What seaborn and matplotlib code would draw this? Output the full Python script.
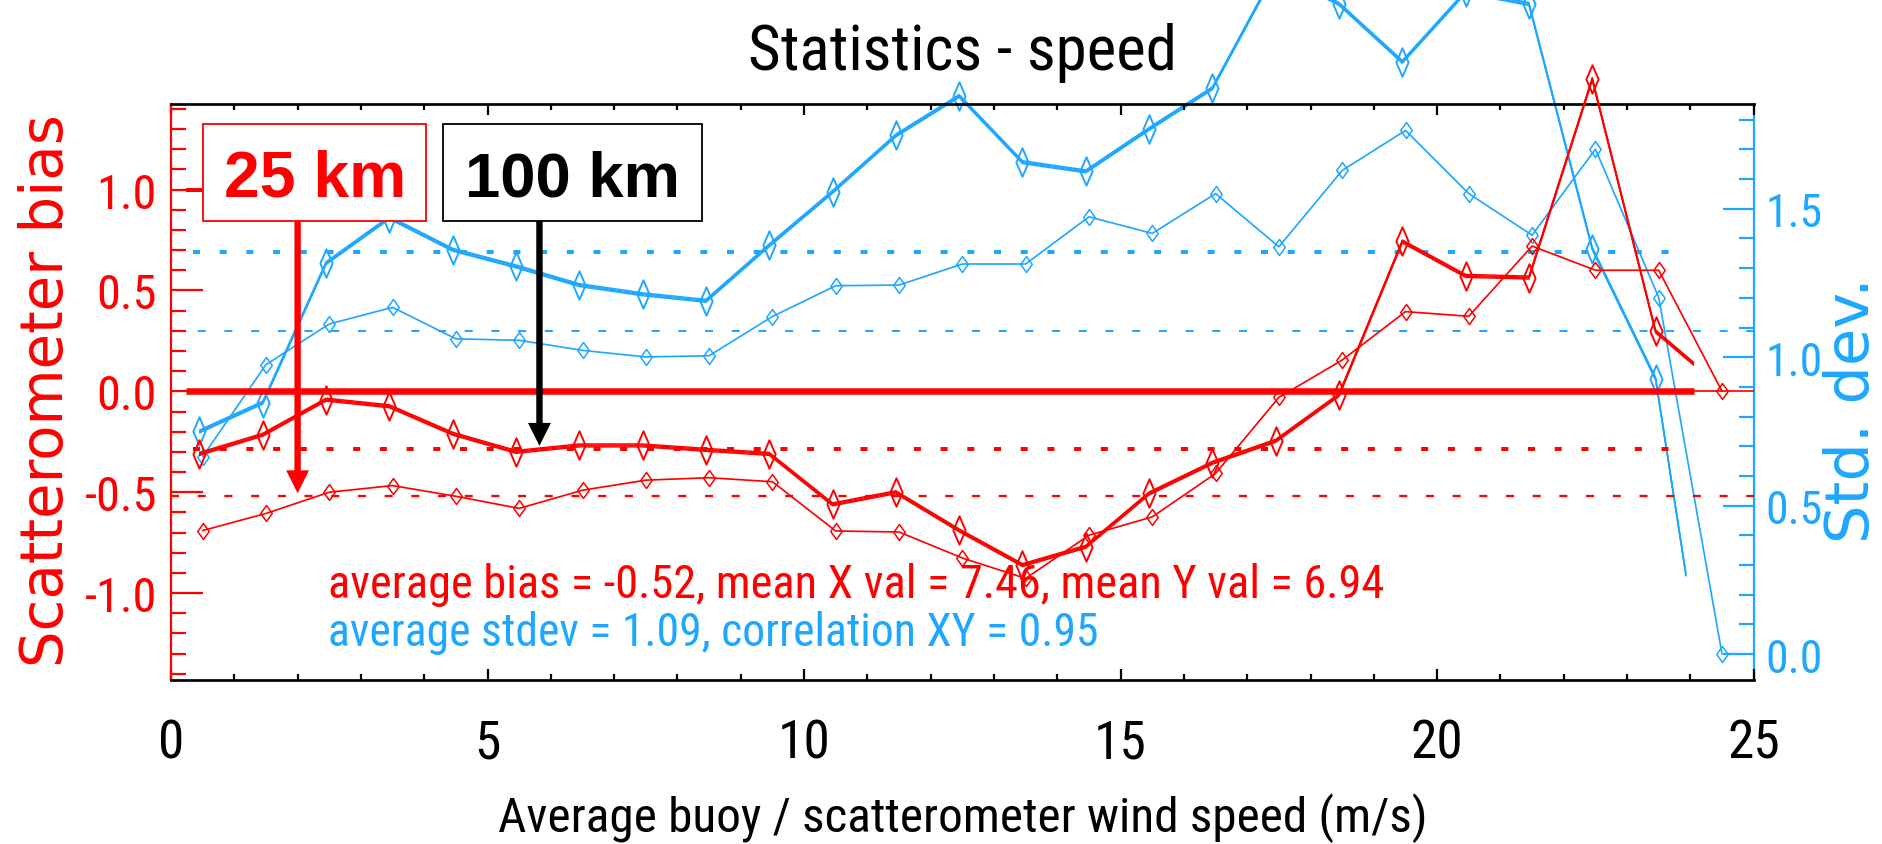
import os
import numpy as np
import pandas as pd
import matplotlib
matplotlib.use("Agg")
import matplotlib.pyplot as plt
import seaborn as sns
from matplotlib import font_manager as fm
from matplotlib.font_manager import FontProperties
from matplotlib.path import Path
from matplotlib.markers import MarkerStyle
from matplotlib.patches import Rectangle, FancyArrowPatch, ArrowStyle
from matplotlib.transforms import offset_copy
from matplotlib.ticker import MultipleLocator

# ---------------- data ----------------
speed_25km = [0.5, 1.5, 2.5, 3.5, 4.5, 5.5, 6.5, 7.5, 8.5, 9.5, 10.5, 11.5, 12.5,
              13.5, 14.5, 15.5, 16.5, 17.5, 18.5, 19.5, 20.5, 21.5, 22.5, 23.5, 24.5]
bias_25km = [-0.69, -0.605, -0.50, -0.467, -0.52, -0.58, -0.49, -0.44, -0.428, -0.448,
             -0.692, -0.697, -0.826, -0.927, -0.713, -0.622, -0.407, -0.03, 0.155, 0.395,
             0.372, 0.72, 0.60, 0.60, 0.0]
stdev_25km = [0.665, 0.975, 1.112, 1.168, 1.062, 1.057, 1.023, 1.001, 1.005, 1.137,
              1.241, 1.243, 1.314, 1.314, 1.473, 1.417, 1.551, 1.372, 1.629, 1.764,
              1.551, 1.411, 1.701, 1.201, 0.0]

speed_100km = [0.45, 1.45, 2.45, 3.45, 4.45, 5.45, 6.45, 7.45, 8.45, 9.45, 10.45, 11.45,
               12.45, 13.45, 14.45, 15.45, 16.45, 17.45, 18.45, 19.45, 20.45, 21.45,
               22.45, 23.45]
bias_100km = [-0.31, -0.215, -0.041, -0.074, -0.21, -0.30, -0.268, -0.268, -0.29, -0.31,
              -0.56, -0.50, -0.689, -0.861, -0.77, -0.506, -0.354, -0.245, -0.018, 0.743,
              0.572, 0.564, 1.548, 0.297]
stdev_100km = [0.75, 0.847, 1.317, 1.47, 1.362, 1.306, 1.243, 1.212, 1.19, 1.377,
               1.557, 1.747, 1.88, 1.657, 1.626, 1.769, 1.906, 2.30, 2.19, 1.995,
               2.23, 2.19, 1.366, 0.928]
# the 100 km curves stop at the clip edge of their overlay (no marker there)
bias_100km_cut = (24.05, 0.137)
stdev_100km_cut = (23.93, 0.268)

avg_bias_25km = -0.52
avg_bias_100km = -0.287
avg_stdev_25km = 1.09
avg_stdev_100km = 1.356

x_ticks = [0, 5, 10, 15, 20, 25]
bias_ticks = [-1.0, -0.5, 0.0, 0.5, 1.0]
stdev_ticks = [0.0, 0.5, 1.0, 1.5]

title_txt = "Statistics - speed"
xlabel_txt = "Average buoy / scatterometer wind speed (m/s)"
ylabel_left_txt = "Scatterometer bias"
ylabel_right_txt = "Std. dev."
stats_bias_txt = "average bias = -0.52, mean X val = 7.46, mean Y val = 6.94"
stats_stdev_txt = "average stdev = 1.09, correlation XY = 0.95"
label_25km = "25 km"
label_100km = "100 km"

# ---------------- style ----------------
RED = "#FF0000"
BLUE = "#1EA7FF"
BLACK = "#000000"
W, H, DPI = 1883, 845, 100
PT = 72.0 / DPI  # points per pixel

sns.set_theme(style="white")
plt.rcParams["axes.unicode_minus"] = False
plt.rcParams["lines.scale_dashes"] = False
plt.rcParams["font.family"] = ["Liberation Sans", "DejaVu Sans"]


def condensed_font():
    """Pick the narrowest regular sans face that is installed."""
    prefs = ["liberationsansnarrow-regular", "robotocondensed-regular",
             "notosans-extracondensed.", "notosans-condensed.", "dejavusanscondensed."]
    files = {os.path.basename(f.fname).lower(): f.fname for f in fm.fontManager.ttflist}
    for p in prefs:
        for base, path in files.items():
            if base.startswith(p):
                return FontProperties(fname=path)
    return FontProperties(family=["Roboto Condensed", "Liberation Sans Narrow",
                                  "Liberation Sans"])


FP_COND = condensed_font()
FP_WIDE = FontProperties(family=["DejaVu Sans"])          # rotated axis titles
FP_BOLD = FontProperties(family=["Liberation Sans", "DejaVu Sans"], weight="bold")


def diamond(aspect):
    verts = [(0, 1), (aspect, 0), (0, -1), (-aspect, 0), (0, 1)]
    codes = [Path.MOVETO, Path.LINETO, Path.LINETO, Path.LINETO, Path.CLOSEPOLY]
    return MarkerStyle(Path(verts, codes))


DIAMOND_THIN = diamond(0.72)
DIAMOND_THICK = diamond(0.43)

# ---------------- figure / axes ----------------
fig = plt.figure(figsize=(W / DPI, H / DPI), dpi=DPI)
AX_L, AX_R, AX_T, AX_B = 171, 1753.7, 105, 680.5
ax = fig.add_axes([AX_L / W, 1 - AX_B / H, (AX_R - AX_L) / W, (AX_B - AX_T) / H])
axr = ax.twinx()
ax.set_zorder(axr.get_zorder() + 1)
ax.patch.set_visible(False)

ax.set_xlim(0, 25)
ax.set_ylim(-1.428, 1.424)
axr.set_ylim(-0.0856, 1.853)


def thin_series(axis, x, y, color):
    sns.lineplot(x=x, y=y, ax=axis, color=color, linewidth=1.7 * PT, marker=DIAMOND_THIN,
                 markersize=11.5, markerfacecolor="none", markeredgecolor=color,
                 markeredgewidth=1.1, clip_on=False, legend=False, sort=False, zorder=3)


def thick_series(axis, x, y, cut, color):
    xs = list(x) + [cut[0]]
    ys = list(y) + [cut[1]]
    # IDL-style thick line: several copies shifted vertically
    for dy in (-1.5, -0.5, 0.5, 1.5):
        tr = offset_copy(axis.transData, fig=fig, x=0, y=dy, units="dots")
        sns.lineplot(x=xs, y=ys, ax=axis, color=color, linewidth=1.4 * PT, transform=tr,
                     clip_on=False, legend=False, sort=False, zorder=3)
    sns.lineplot(x=x, y=y, ax=axis, color=color, linestyle="none", marker=DIAMOND_THICK,
                 markersize=20.5, markerfacecolor="none", markeredgecolor=color,
                 markeredgewidth=1.4, clip_on=False, legend=False, sort=False, zorder=3)


dash_thin = (0, (8 * PT, 18.7 * PT))
dash_thick = (0, (7 * PT, 19.7 * PT))
THICK_START, THICK_END = 0.35, 23.9

# --- blue (std. dev., right axis) ---
axr.axhline(avg_stdev_25km, color=BLUE, lw=2.0 * PT, linestyle=dash_thin, zorder=1)
axr.hlines(avg_stdev_100km, THICK_START, THICK_END, color=BLUE, lw=4 * PT,
           linestyles=[dash_thick], zorder=1)
thin_series(axr, speed_25km, stdev_25km, BLUE)
thick_series(axr, speed_100km, stdev_100km, stdev_100km_cut, BLUE)

# --- red (bias, left axis) ---
ax.axhline(avg_bias_25km, color=RED, lw=2.3 * PT, linestyle=dash_thin, zorder=1)
ax.hlines(avg_bias_100km, THICK_START, THICK_END, color=RED, lw=4 * PT,
          linestyles=[dash_thick], zorder=1)
ax.axhline(0.0, color=RED, lw=1.7 * PT, zorder=2)
ax.hlines(0.0, 0.24, bias_100km_cut[0], color=RED, lw=6.5 * PT, zorder=2)
ax.hlines(1.0, 0.24, 0.49, color=RED, lw=4 * PT, zorder=2)
thin_series(ax, speed_25km, bias_25km, RED)
thick_series(ax, speed_100km, bias_100km, bias_100km_cut, RED)

# ---------------- annotations ----------------
BOX_Y0, BOX_Y1 = 0.846, 1.323
for (x0, x1, ec) in ((0.504, 4.035, RED), (4.297, 8.389, BLACK)):
    ax.add_patch(Rectangle((x0, BOX_Y0), x1 - x0, BOX_Y1 - BOX_Y0, transform=ax.transData,
                           facecolor="white", edgecolor=ec, lw=1.3, zorder=6, clip_on=False))
t25 = ax.text((0.504 + 4.035) / 2, 0.969, label_25km, color=RED, ha="center", va="baseline",
              fontproperties=FP_BOLD, fontsize=45, zorder=7)
t100 = ax.text((4.297 + 8.389) / 2, 0.969, label_100km, color=BLACK, ha="center",
               va="baseline", fontproperties=FP_BOLD, fontsize=45, zorder=7)

arrow_style = ArrowStyle("simple", head_length=16.5, head_width=16.5, tail_width=4.6)
for xa, ytip, col in ((2.0, -0.505, RED), (5.82, -0.27, BLACK)):
    ax.add_patch(FancyArrowPatch((xa, BOX_Y0), (xa, ytip), arrowstyle=arrow_style,
                                 mutation_scale=1, color=col, lw=0, shrinkA=0, shrinkB=0,
                                 zorder=7, clip_on=False))

stats1 = ax.text(2.48, -1.02, stats_bias_txt, color=RED, ha="left", va="baseline",
                 fontproperties=FP_COND, fontsize=40, zorder=4)
stats2 = ax.text(2.48, -1.255, stats_stdev_txt, color=BLUE, ha="left", va="baseline",
                 fontproperties=FP_COND, fontsize=40, zorder=4)

title = fig.text((AX_L + AX_R) / 2 / W, 1 - 70 / H, title_txt, ha="center", va="baseline",
                 color=BLACK, fontproperties=FP_COND, fontsize=50)

# ---------------- axes decoration ----------------
ax.spines["right"].set_visible(False)
for s in ("left", "top", "bottom"):
    axr.spines[s].set_visible(False)
ax.spines["left"].set_color(RED)
ax.spines["left"].set_linewidth(2.2 * PT)
for s in ("top", "bottom"):
    ax.spines[s].set_color(BLACK)
    ax.spines[s].set_linewidth(2.7 * PT)
axr.spines["right"].set_color(BLUE)
axr.spines["right"].set_linewidth(2.2 * PT)

ax.set_xticks(x_ticks, labels=[str(v) for v in x_ticks])
ax.xaxis.set_minor_locator(MultipleLocator(1))
ax.set_yticks(bias_ticks, labels=[f"{v:.1f}" for v in bias_ticks])
ax.yaxis.set_minor_locator(MultipleLocator(0.1))
axr.set_yticks(stdev_ticks, labels=[f"{v:.1f}" for v in stdev_ticks])
axr.yaxis.set_minor_locator(MultipleLocator(0.1))

ax.tick_params(axis="x", which="both", direction="in", top=True, bottom=True,
               color=BLACK, labelcolor=BLACK, width=1.6)
ax.tick_params(axis="x", which="major", length=11 * PT, pad=20)
ax.tick_params(axis="x", which="minor", length=5.7 * PT)
ax.tick_params(axis="y", which="both", direction="in", color=RED, labelcolor=RED, width=1.6,
               left=True, right=False)
ax.tick_params(axis="y", which="major", length=32 * PT, pad=10)
ax.tick_params(axis="y", which="minor", length=15 * PT)
axr.tick_params(axis="y", which="both", direction="in", color=BLUE, labelcolor=BLUE,
                width=1.6, right=True, left=False)
axr.tick_params(axis="y", which="major", length=31 * PT, pad=10)
axr.tick_params(axis="y", which="minor", length=14.7 * PT)

for lbl in ax.get_xticklabels() + ax.get_yticklabels() + axr.get_yticklabels():
    lbl.set_fontproperties(FP_COND)
    lbl.set_fontsize(40)

ax.set_xlabel(xlabel_txt, fontproperties=FP_COND, fontsize=40, color=BLACK)
ax.xaxis.set_label_coords(0.5, (AX_B - 832) / (AX_B - AX_T))
ax.xaxis.label.set_va("baseline")
ax.set_ylabel(ylabel_left_txt, fontproperties=FP_WIDE, fontsize=40, color=RED)
ax.yaxis.set_label_coords((47 - AX_L) / (AX_R - AX_L), (AX_B - 391) / (AX_B - AX_T))
ax.yaxis.label.set_va("center")
axr.set_ylabel(ylabel_right_txt, fontproperties=FP_WIDE, fontsize=40, color=BLUE,
               rotation=90)
axr.yaxis.label.set_va("center")
axr.yaxis.set_label_coords((1852 - AX_L) / (AX_R - AX_L), (AX_B - 410) / (AX_B - AX_T))

# ---------------- fit text sizes / positions to the reference ----------------
fig.canvas.draw()
rend = fig.canvas.get_renderer()


def fit(t, target, dim="w", extra=1.0):
    bb = t.get_window_extent(rend)
    cur = bb.width if dim == "w" else bb.height
    if cur > 0:
        t.set_fontsize(t.get_fontsize() * target / cur * extra)


fit(title, 413, extra=1.04)
fit(ax.xaxis.label, 929)
fit(stats1, 1054)
fit(stats2, 769)
fit(ax.yaxis.label, 552, "h")
fit(axr.yaxis.label, 265, "h")
fit(t25, 177, extra=1.03)
fit(t100, 209, extra=1.03)


def label_with(labels, text):
    return [l for l in labels if l.get_text() == text][0]


xl = label_with(ax.get_xticklabels(), "10")
fx = 47 / xl.get_window_extent(rend).width * 1.12
for lbl in ax.get_xticklabels():
    lbl.set_fontsize(lbl.get_fontsize() * fx)
yl = label_with(ax.get_yticklabels(), "1.0")
fy = 57 / yl.get_window_extent(rend).width * 1.06
for lbl in ax.get_yticklabels():
    lbl.set_fontsize(lbl.get_fontsize() * fy)
for lbl in axr.get_yticklabels():
    lbl.set_fontsize(lbl.get_fontsize() * fy / 1.06)

# place tick labels where the reference has them
fig.canvas.draw()
bb = label_with(ax.get_xticklabels(), "10").get_window_extent(rend)
ax.tick_params(axis="x", which="major", pad=20 + ((bb.y0 + bb.y1) / 2 - (H - 744)) * PT)
bb = label_with(ax.get_yticklabels(), "1.0").get_window_extent(rend)
ax.tick_params(axis="y", which="major", pad=10 + (bb.x1 - 157) * PT)
bb = label_with(axr.get_yticklabels(), "1.5").get_window_extent(rend)
axr.tick_params(axis="y", which="major", pad=10 + (1765 - bb.x0) * PT)

# right axis title: just right of the tick labels; "Std. dev." has no descenders,
# so the empty descent strip of its box may run past the edge while the ink stays inside
fig.canvas.draw()
tick_x1 = max(l.get_window_extent(rend).x1 for l in axr.get_yticklabels() if l.get_text())
lab = axr.yaxis.label
bb = lab.get_window_extent(rend)
avail = ((W - 2) - (tick_x1 + 1)) * 1.2
if bb.width > avail:
    lab.set_fontsize(lab.get_fontsize() * avail / bb.width)
fig.canvas.draw()
bb = lab.get_window_extent(rend)
cx = tick_x1 + 1 + bb.width / 2
axr.yaxis.set_label_coords((cx - AX_L) / (AX_R - AX_L), (AX_B - 410) / (AX_B - AX_T))

fig.savefig("out.png", dpi=DPI, facecolor="white")
